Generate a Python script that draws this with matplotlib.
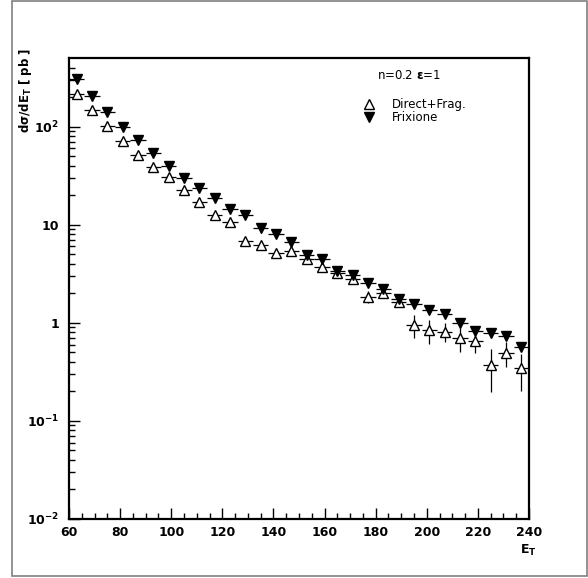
import numpy as np
import matplotlib.pyplot as plt
from matplotlib.patches import Rectangle
from matplotlib.ticker import FixedLocator, NullFormatter

# bin centres (6 GeV bins from 60 to 240)
et = [63, 69, 75, 81, 87, 93, 99, 105, 111, 117,
      123, 129, 135, 141, 147, 153, 159, 165, 171, 177,
      183, 189, 195, 201, 207, 213, 219, 225, 231, 237]
et_halfwidth = [3] * 30

# Direct+Frag. (open triangles)
direct = [214, 148, 102, 72, 51.4, 39, 30.5, 22.6, 16.9, 12.6,
          10.7, 6.87, 6.21, 5.11, 5.43, 4.44, 3.68, 3.24, 2.77, 1.84,
          2.02, 1.64, 0.947, 0.842, 0.81, 0.693, 0.655, 0.37, 0.494, 0.343]
direct_err = [6, 5, 3.5, 2.6, 2.0, 1.6, 1.3, 1.1, 0.9, 0.75,
              0.65, 0.5, 0.45, 0.4, 0.4, 0.35, 0.3, 0.28, 0.26, 0.26,
              0.22, 0.2, 0.25, 0.23, 0.18, 0.19, 0.16, 0.175, 0.14, 0.14]

# Frixione (filled triangles)
frixione = [305, 206, 142, 98.6, 73, 53.5, 39.7, 30.2, 23.5, 18.6,
            14.4, 12.6, 9.19, 8.04, 6.71, 4.91, 4.44, 3.39, 3.07, 2.52,
            2.19, 1.73, 1.54, 1.35, 1.23, 1.0, 0.83, 0.78, 0.73, 0.57]
frixione_err = [5, 4, 3, 2.2, 1.7, 1.3, 1.0, 0.8, 0.65, 0.55,
                0.45, 0.4, 0.32, 0.3, 0.26, 0.2, 0.2, 0.16, 0.15, 0.13,
                0.12, 0.1, 0.1, 0.09, 0.09, 0.08, 0.07, 0.07, 0.07, 0.06]

plt.rcParams['font.family'] = ['DejaVu Sans']
plt.rcParams['mathtext.default'] = 'bf'
fs = 8.5
fig = plt.figure(figsize=(5.88, 5.78), dpi=100)
ax = fig.add_axes([69 / 588, 1 - 519 / 578, 460 / 588, 461 / 578])

# outer frame (page border)
fig.patches.append(Rectangle((12 / 588, 1 - 576 / 578), 575 / 588, 575 / 578,
                             transform=fig.transFigure, fill=False,
                             edgecolor='#808080', linewidth=1.2))

ax.errorbar(et, direct, xerr=et_halfwidth, yerr=direct_err, fmt='^', ms=7.5,
            mfc='white', mec='black', mew=1.0, color='black', elinewidth=0.9,
            capsize=0, zorder=3)
ax.errorbar(et, frixione, xerr=et_halfwidth, yerr=frixione_err, fmt='v', ms=7.5,
            mfc='black', mec='black', color='black', elinewidth=0.9,
            capsize=0, zorder=4)

ax.set_yscale('log')
ax.set_xlim(60, 240)
ax.set_ylim(0.01, 500)

ax.set_xticks([60, 80, 100, 120, 140, 160, 180, 200, 220, 240])
ax.xaxis.set_minor_locator(FixedLocator(np.arange(60, 241, 5)))
ax.set_yticks([0.01, 0.1, 1, 10, 100])
ax.set_yticklabels([r'$10^{-2}$', r'$10^{-1}$', '1', '10', r'$10^{2}$'])
minors = []
for d in [0.01, 0.1, 1, 10, 100]:
    for k in range(2, 10):
        if d * k < 500:
            minors.append(d * k)
ax.yaxis.set_minor_locator(FixedLocator(minors))
ax.yaxis.set_minor_formatter(NullFormatter())

ax.tick_params(which='both', direction='in', top=False, right=False,
               labelsize=fs + 0.5, width=1.0)
ax.tick_params(which='major', length=8)
ax.tick_params(which='minor', length=4)
ax.tick_params(axis='y', pad=7)
ax.tick_params(axis='x', pad=5)
for lab in ax.get_xticklabels() + ax.get_yticklabels():
    lab.set_fontweight('bold')
for s in ax.spines.values():
    s.set_linewidth(1.6)

fig.text(26 / 588, 1 - 48 / 578, r'd$\sigma$/dE$_{T}$ [ pb ]', rotation=90,
         ha='center', va='top', fontsize=fs, fontweight='bold')
fig.text(528 / 588, 1 - 550 / 578, r'E$_{T}$', ha='center', va='center',
         fontsize=fs + 0.5, fontweight='bold')

# legend text
ax.text(0.670, 0.963, r'n=0.2 $\varepsilon$=1', transform=ax.transAxes,
        fontsize=fs, va='center')
ax.plot([0.652], [0.900], marker='^', ms=6.5, mfc='white', mec='black',
        transform=ax.transAxes, clip_on=False)
ax.text(0.702, 0.900, 'Direct+Frag.', transform=ax.transAxes, fontsize=fs,
        va='center')
ax.plot([0.652], [0.872], marker='v', ms=6.5, color='black',
        transform=ax.transAxes, clip_on=False)
ax.text(0.702, 0.872, 'Frixione', transform=ax.transAxes, fontsize=fs,
        va='center')

plt.savefig('out.png', dpi=100)
